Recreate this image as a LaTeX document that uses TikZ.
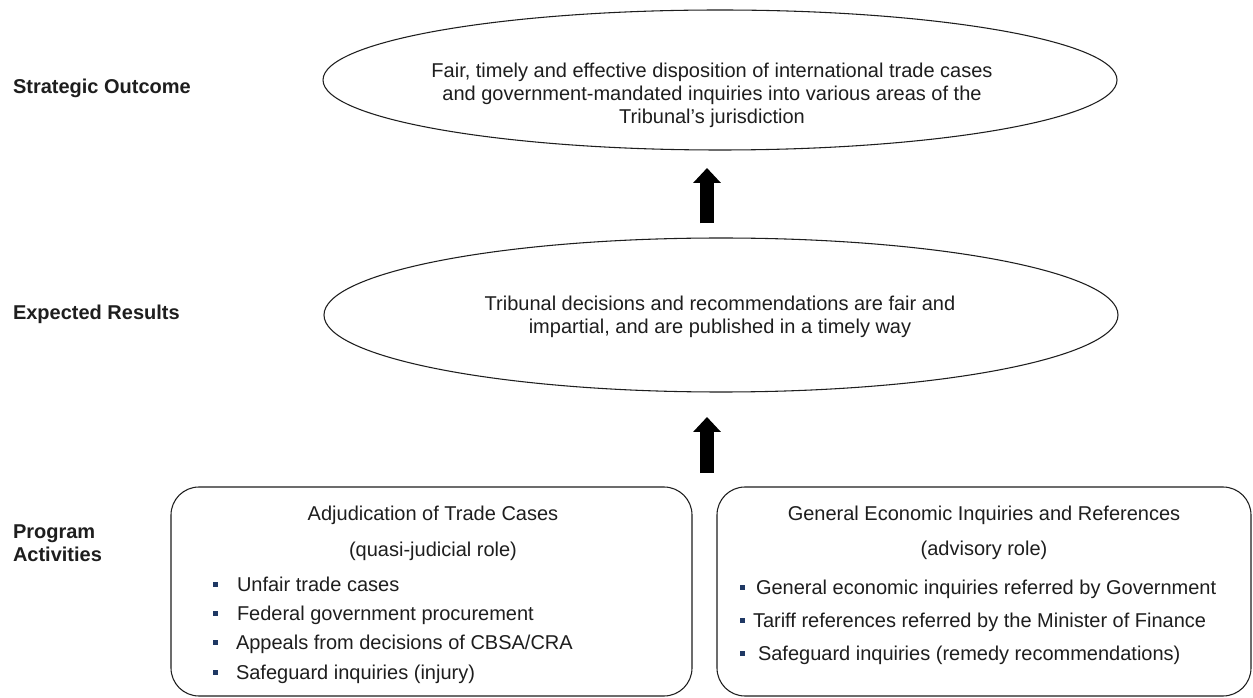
\documentclass[tikz,border=0pt]{standalone}
\usepackage{fontspec}
\setmainfont{Liberation Sans}
\usetikzlibrary{shapes.geometric,arrows.meta}
\definecolor{bulletblue}{RGB}{31,56,100}
\definecolor{ink}{RGB}{30,30,30}
\begin{document}
\begin{tikzpicture}[x=0.75pt,y=-0.75pt,
  every node/.style={inner sep=0pt, outer sep=0pt},
  txt/.style={font={\fontsize{15}{17.25}\selectfont}, text=ink},
  lbl/.style={font={\fontsize{15}{17.25}\selectfont\bfseries}, text=ink},
  oval/.style={draw=ink, line width=0.8pt, ellipse},
  actbox/.style={draw=ink, line width=0.8pt, rounded corners=21pt, anchor=north west},
  bul/.style={fill=bulletblue, minimum size=3.75pt},
  bigarrow/.style={line width=10.5pt, draw=black, -{Triangle[width=20.25pt,length=11.25pt]}}
]
\fill[white] (0,0) rectangle (1253,698);
\useasboundingbox (0,0) rectangle (1253,698);

% row labels
\node[lbl, anchor=base west] (lso) at (13,94) {Strategic Outcome};
\node[lbl, anchor=base west] (ler) at (13,320) {Expected Results};
\node[lbl, anchor=west, align=left] (lpa) at (13,543) {Program\\Activities};

% ellipses
\node[oval, minimum width=595.5pt, minimum height=105pt] (so) at (720,80) {};
\node[txt, align=center] (sotext) at (712,95)
  {Fair, timely and effective disposition of international trade cases\\
   and government-mandated inquiries into various areas of the\\
   Tribunal’s jurisdiction};

\node[oval, minimum width=595.5pt, minimum height=115.5pt] (er) at (721,315) {};
\node[txt, align=center] (ertext) at (720,317)
  {Tribunal decisions and recommendations are fair and\\
   impartial, and are published in a timely way};

% activity boxes
\node[actbox, minimum width=390.75pt, minimum height=156.75pt] (lbox) at (171,487) {};
\node[actbox, minimum width=400.5pt, minimum height=156.75pt] (rbox) at (717,487) {};

% arrows
\coordinate (ax) at (707,0);
\draw[bigarrow, shorten <=11pt, shorten >=13.5pt] (er.north -| ax) -- (so.south -| ax);
\draw[bigarrow, shorten <=10.5pt, shorten >=18.75pt] (lbox.north east -| ax) -- (er.south -| ax);

% left box content
\node[txt, anchor=base] (ltitle) at (433,520) {Adjudication of Trade Cases};
\node[txt, anchor=base] (lrole) at (433,556) {(quasi-judicial role)};
\node[bul] (lb1) at (215,584) {};
\node[bul] (lb2) at (215,613) {};
\node[bul] (lb3) at (215,642) {};
\node[bul] (lb4) at (215,672) {};
\node[txt, anchor=base west] (li1) at (237,591) {Unfair trade cases};
\node[txt, anchor=base west] (li2) at (237,620) {Federal government procurement};
\node[txt, anchor=base west] (li3) at (236,649) {Appeals from decisions of CBSA/CRA};
\node[txt, anchor=base west] (li4) at (236,679) {Safeguard inquiries (injury)};

% right box content
\node[txt, anchor=base] (rtitle) at (984,520) {General Economic Inquiries and References};
\node[txt, anchor=base] (rrole) at (984,555) {(advisory role)};
\node[bul] (rb1) at (742,587) {};
\node[bul] (rb2) at (742,620) {};
\node[bul] (rb3) at (742,653) {};
\node[txt, anchor=base west] (ri1) at (756,594) {General economic inquiries referred by Government};
\node[txt, anchor=base west] (ri2) at (753,627) {Tariff references referred by the Minister of Finance};
\node[txt, anchor=base west] (ri3) at (758,660) {Safeguard inquiries (remedy recommendations)};
\end{tikzpicture}
\end{document}
